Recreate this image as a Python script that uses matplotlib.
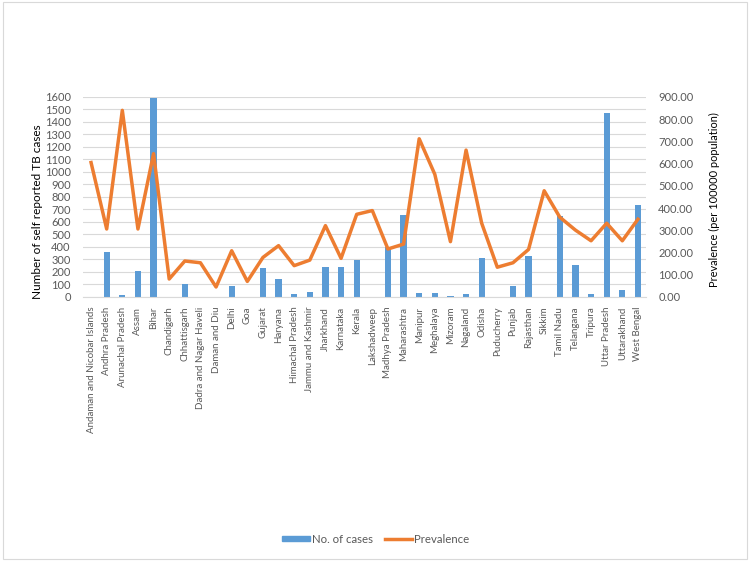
import matplotlib.pyplot as plt
from matplotlib.patches import Rectangle
from matplotlib.lines import Line2D
from matplotlib.patches import Patch

plt.rcParams['font.family'] = ['Lato', 'DejaVu Sans']

states = ["Andaman and Nicobar Islands", "Andhra Pradesh", "Arunachal Pradesh", "Assam",
          "Bihar", "Chandigarh", "Chhattisgarh", "Dadra and Nagar Haveli", "Daman and Diu",
          "Delhi", "Goa", "Gujarat", "Haryana", "Himachal Pradesh", "Jammu and Kashmir",
          "Jharkhand", "Karnataka", "Kerala", "Lakshadweep", "Madhya Pradesh", "Maharashtra",
          "Manipur", "Meghalaya", "Mizoram", "Nagaland", "Odisha", "Puducherry", "Punjab",
          "Rajasthan", "Sikkim", "Tamil Nadu", "Telangana", "Tripura", "Uttar Pradesh",
          "Uttarakhand", "West Bengal"]

cases = [2, 360, 18, 205, 1590, 0, 100, 0, 0, 85, 0, 235, 145, 20, 40, 240, 240, 295,
         0, 400, 655, 30, 30, 5, 20, 315, 0, 90, 330, 3, 650, 256, 20, 1475, 53, 738]

prevalence = [605, 306, 840, 306, 645, 81, 162, 154, 45, 208, 70, 178, 231, 141, 166,
              321, 174, 372, 389, 216, 238, 712, 552, 249, 661, 332, 134, 154, 214, 478,
              359, 301, 253, 332, 253, 350]

fig = plt.figure(figsize=(7.5, 5.61), dpi=100)
fig.patches.append(Rectangle((0.004, 0.004), 0.992, 0.992, transform=fig.transFigure,
                             fill=False, edgecolor='#d9d9d9', lw=0.8))

ax = fig.add_axes([0.111, 0.4706, 0.750, 0.3565])
x = list(range(len(states)))
ax.bar(x, cases, width=0.4, color='#5B9BD5', zorder=2)
ax.set_xlim(-0.5, len(states) - 0.5)
ax.set_ylim(0, 1600)
ax.set_yticks(range(0, 1601, 100))
ax.grid(axis='y', color='#d9d9d9', lw=0.8, zorder=0)
for s in ['top', 'right', 'left']:
    ax.spines[s].set_visible(False)
ax.spines['bottom'].set_color('#d9d9d9')
ax.tick_params(axis='y', length=0, colors='#595959', labelsize=8, pad=9)
ax.tick_params(axis='x', length=0, colors='#595959', labelsize=7, pad=7)
ax.set_xticks(x)
ax.set_xticklabels(states, rotation=90)
ax.set_ylabel('Number of self reported TB cases', fontsize=8.5)
ax.yaxis.set_label_coords(-0.071, 0.425)

ax2 = ax.twinx()
ax2.plot(x, prevalence, color='#ED7D31', lw=2.5, zorder=3)
ax2.set_ylim(0, 900)
ax2.set_yticks(range(0, 901, 100))
ax2.set_yticklabels([f'{v:.2f}' for v in range(0, 901, 100)])
for s in ['top', 'right', 'left', 'bottom']:
    ax2.spines[s].set_visible(False)
ax2.tick_params(axis='y', length=0, colors='#595959', labelsize=8, pad=9)
ax2.set_ylabel('Prevalence (per 100000 population)', fontsize=7.9)
ax2.yaxis.set_label_coords(1.112, 0.485)

handles = [Patch(color='#5B9BD5'), Line2D([0], [0], color='#ED7D31', lw=2.5)]
leg = fig.legend(handles, ['No. of cases', 'Prevalence'], loc='center', ncol=2,
                 bbox_to_anchor=(0.501, 0.039), frameon=False, fontsize=8.2,
                 handlelength=2.4, handleheight=0.35, columnspacing=1.05, handletextpad=0.18)
for t in leg.get_texts():
    t.set_color('#595959')

fig.savefig('out.png', dpi=100)
